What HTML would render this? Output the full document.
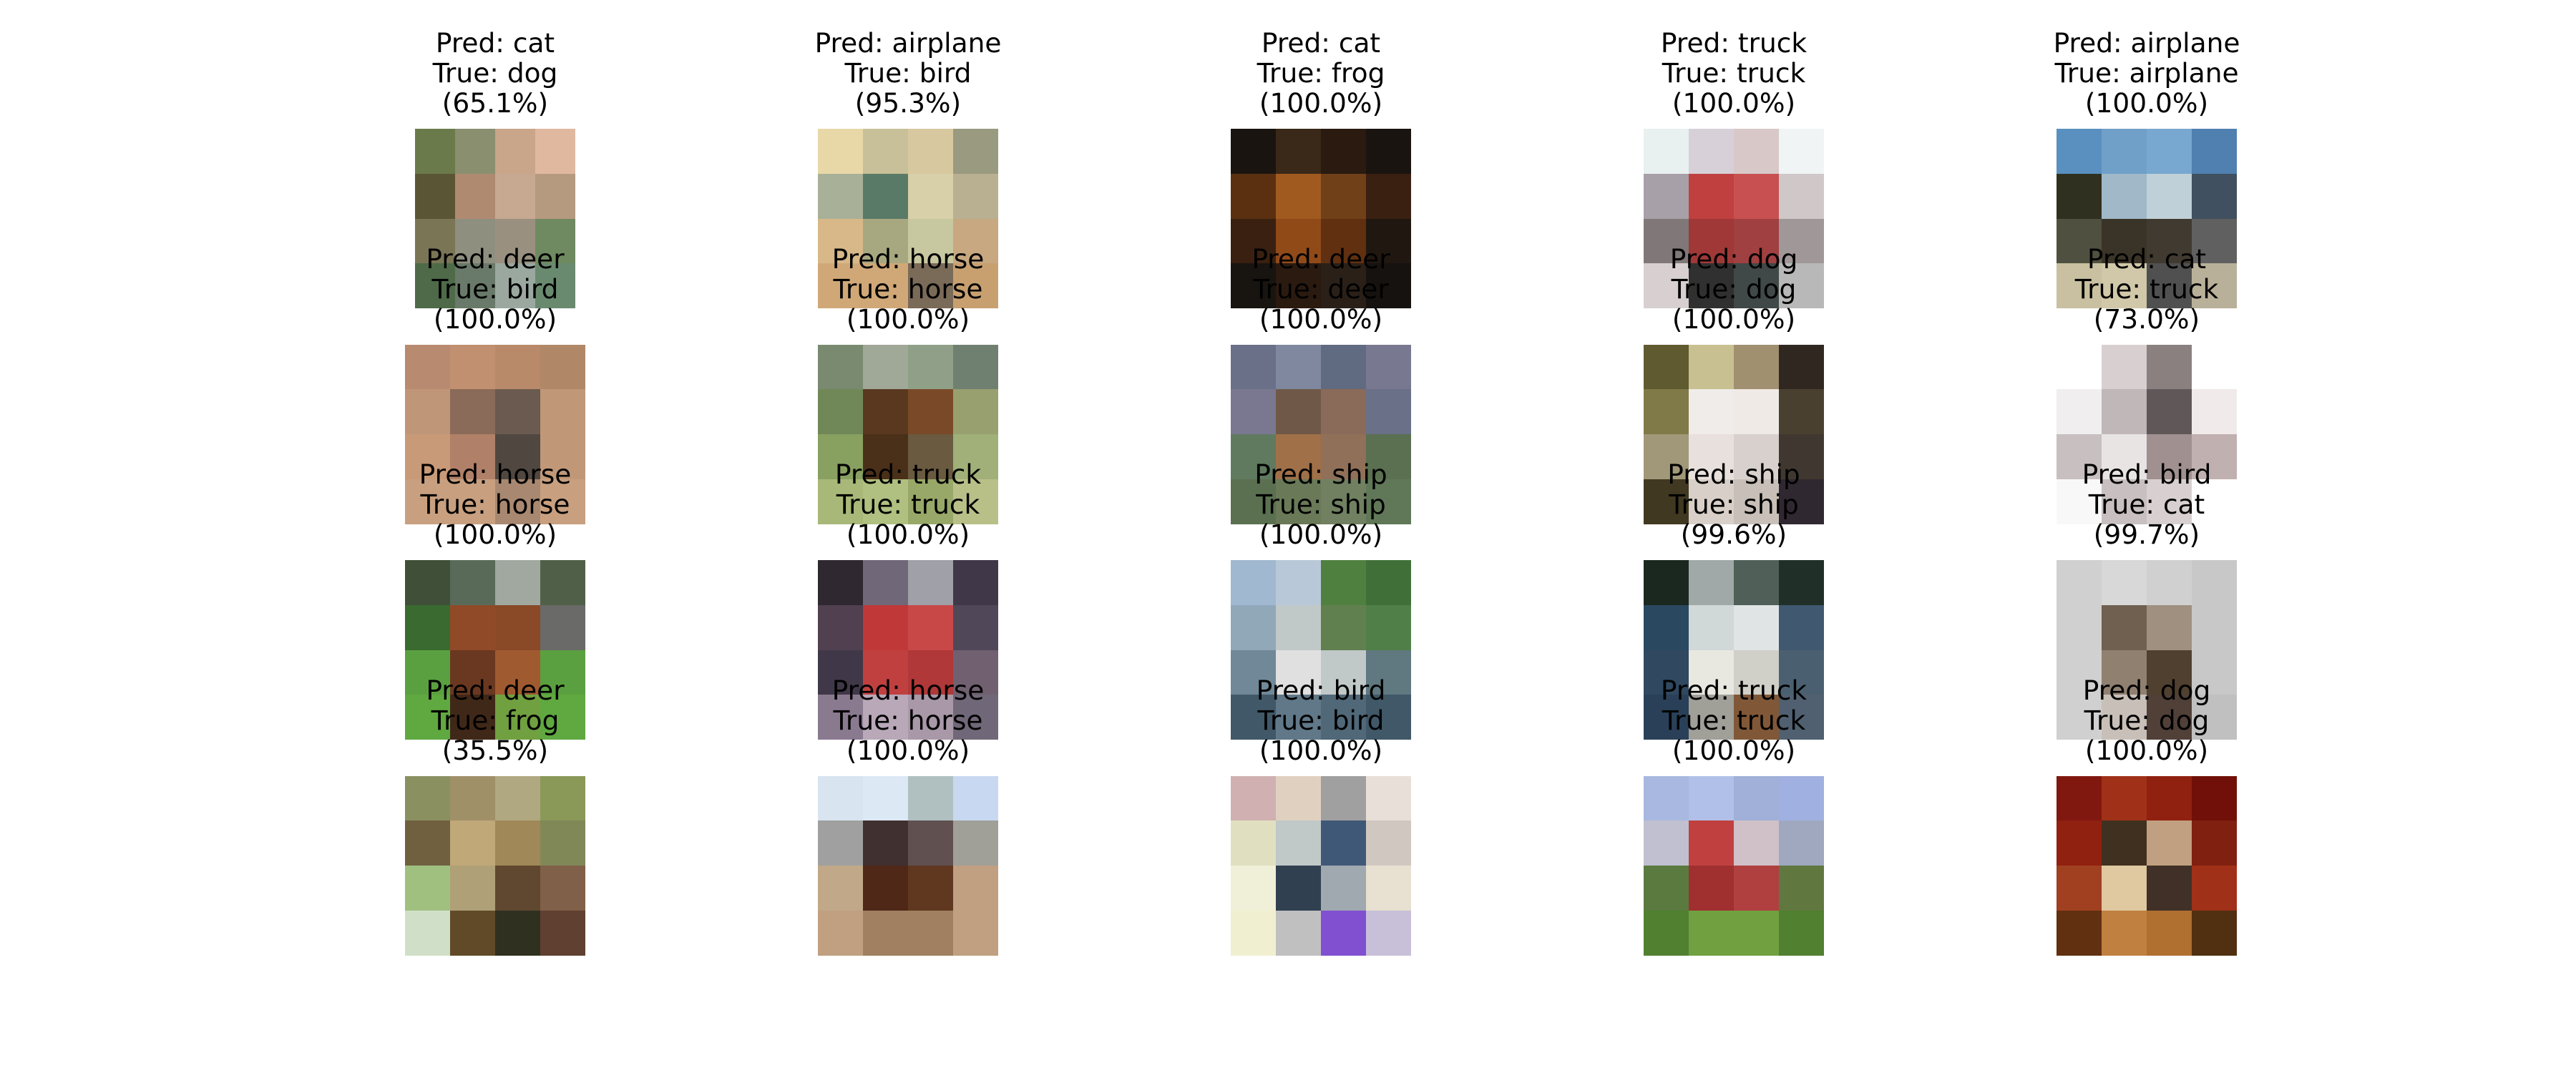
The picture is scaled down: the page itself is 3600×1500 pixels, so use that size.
<!DOCTYPE html>
<html><head><meta charset="utf-8">
<style>
html,body{margin:0;padding:0;background:#fff;}
#fig{position:relative;width:3600px;height:1500px;overflow:hidden;background:#fff;}
.img{position:absolute;display:grid;grid-template-columns:repeat(4,1fr);grid-template-rows:repeat(4,1fr);z-index:1;}
.title{position:absolute;width:600px;text-align:center;font-family:"DejaVu Sans","Liberation Sans",sans-serif;font-size:37.5px;line-height:42px;color:#000;z-index:2;white-space:pre;}
</style></head>
<body>
<div id="fig"></div>
<script>
const preds = ["cat","airplane","cat","truck","airplane","deer","horse","deer","dog","cat","horse","truck","ship","ship","bird","deer","horse","bird","truck","dog"];
const trues = ["dog","bird","frog","truck","airplane","bird","horse","deer","dog","truck","horse","truck","ship","ship","cat","frog","horse","bird","truck","dog"];
const confs = ["65.1","95.3","100.0","100.0","100.0","100.0","100.0","100.0","100.0","73.0","100.0","100.0","100.0","99.6","99.7","35.5","100.0","100.0","100.0","100.0"];
const colors = [
[["#6b7a4a","#8a8f70","#c9a58a","#e0b8a0"],["#5a5535","#b08a70","#c7a890","#b69a80"],["#7a7555","#8f8f80","#9a9080","#6f8a60"],["#4e6a48","#6a7a6a","#9aa8a0","#6a8a70"]],
[["#e8d8a8","#c8c098","#d8c8a0","#9a9a80"],["#a8b098","#5a7a68","#d8d0a8","#b8b090"],["#d8b888","#a8a880","#c8c8a0","#c8a880"],["#d0a878","#d0a878","#7a6a58","#c8a070"]],
[["#1a1410","#3a2818","#2a1a10","#1a1410"],["#5a3010","#a05a20","#704018","#3a2010"],["#3a2010","#904a18","#603010","#201810"],["#181410","#2a1a10","#2a2018","#151210"]],
[["#e8f0f0","#d8d0d8","#d8c8c8","#f0f4f4"],["#a8a0a8","#c04040","#c85050","#d0c8c8"],["#807878","#a03838","#a04040","#a09898"],["#d8d0d0","#303030","#404848","#b8b8b8"]],
[["#5a90c0","#70a0c8","#78a8d0","#5080b0"],["#303020","#a0b8c8","#c0d0d8","#405060"],["#505040","#3a3428","#403a30","#606060"],["#c8c0a0","#d0c8a8","#505050","#b8b098"]],
[["#b88a70","#c09070","#b88a6a","#b08868"],["#c09678","#8a6a58","#6a5a50","#c09878"],["#c89a78","#b08068","#504840","#c09878"],["#c8a080","#c8a080","#a88870","#c8a080"]],
[["#7a8a70","#a0a898","#90a088","#708070"],["#708858","#5a3820","#7a4a28","#98a070"],["#88a060","#4a3018","#6a5a40","#a0b078"],["#a8b878","#b0c080","#98a868","#b8c088"]],
[["#6a7088","#8088a0","#606a80","#787890"],["#7a7890","#705848","#8a6a58","#6a7088"],["#607a60","#a07048","#907058","#5a7050"],["#5a7050","#6a7a58","#708060","#607858"]],
[["#605a30","#c8c090","#a09070","#302820"],["#807a48","#f0ecea","#f0eae6","#4a4030"],["#a09878","#e8e0dc","#d8d0cc","#403830"],["#403820","#d8d0c8","#c8c0b8","#302830"]],
[["#ffffff","#d8d0d0","#8a8080","#ffffff"],["#f0eeee","#c0b8b8","#605858","#f0eaea"],["#c8c0c0","#e8e4e4","#a09090","#c0b0b0"],["#f8f8f8","#c8c0c0","#d8d0d0","#ffffff"]],
[["#405038","#5a6a58","#a0a8a0","#506048"],["#3a6a30","#904a28","#8a4a28","#6a6a68"],["#5aa040","#6a3820","#a05a30","#5aa040"],["#60a840","#402818","#70a040","#60a840"]],
[["#302830","#706878","#a0a0a8","#403848"],["#504050","#c03838","#c84848","#504858"],["#403848","#c04040","#b03838","#706070"],["#8a7a90","#b8a8b8","#a898a8","#706878"]],
[["#a0b8d0","#b8c8d8","#508040","#407038"],["#90a8b8","#c0c8c8","#608050","#508048"],["#708898","#e0e0e0","#c0c8c8","#607880"],["#405868","#607888","#506878","#405868"]],
[["#1a2820","#a0a8a8","#506058","#203028"],["#2a4860","#d0d8d8","#e0e4e4","#405870"],["#304860","#e8e8e0","#d0d0c8","#4a6070"],["#2a4058","#a0a098","#805838","#506070"]],
[["#d0d0d0","#d8d8d8","#d0d0d0","#c8c8c8"],["#d0d0d0","#706050","#a09080","#c8c8c8"],["#d0d0d0","#908070","#504030","#c8c8c8"],["#d0d0d0","#c8c0b8","#504038","#c0c0c0"]],
[["#8a9060","#a09068","#b0a880","#8a9858"],["#706040","#c0a878","#a08858","#808858"],["#a0c080","#b0a078","#604830","#806048"],["#d0e0c8","#604a28","#303020","#604030"]],
[["#d8e4f0","#dce8f4","#b0c0c0","#c8d8f0"],["#a0a0a0","#403030","#605050","#a0a098"],["#c0a888","#502818","#603820","#c0a080"],["#c0a080","#a08060","#a08060","#c0a080"]],
[["#d0b0b0","#e0d0c0","#a0a0a0","#e8e0d8"],["#e0e0c0","#c0c8c8","#405878","#d0c8c0"],["#f0f0d8","#304050","#a0a8b0","#e8e0d0"],["#f0f0d0","#c0c0c0","#8050d0","#c8c0d8"]],
[["#a8b8e0","#b0c0e8","#a0b0d8","#a0b0e0"],["#c0c0d0","#c04040","#d0c0c8","#a0a8c0"],["#5a7a40","#a03030","#b04040","#607840"],["#508030","#70a040","#70a040","#508030"]],
[["#801810","#a03018","#902010","#701008"],["#902010","#403020","#c0a080","#802010"],["#a04020","#e0c8a0","#403028","#a03018"],["#603010","#c08040","#b07030","#503010"]]
];
const fig = document.getElementById('fig');
const colX = c => 692 + c*577;
const rowY = r => 180 + r*301.5;
for (let i = 0; i < preds.length; i++) {
  const r = Math.floor(i/5), c = i%5;
  const im = document.createElement('div');
  im.className = 'img';
  
  
  const w = (i === 0) ? 224 : 252;
  im.style.left = (colX(c) - w/2) + 'px';
  im.style.top = rowY(r) + 'px';
  im.style.width = w + 'px';
  im.style.height = '251px';
  colors[i].forEach(row => row.forEach(col => {
    const cell = document.createElement('div');
    cell.style.background = col;
    im.appendChild(cell);
  }));
  fig.appendChild(im);
  const t = document.createElement('div');
  t.className = 'title';
  
  
  t.style.left = (colX(c) - 300) + 'px';
  t.style.top = (39 + r*301.5) + 'px';
  t.textContent = 'Pred: ' + preds[i] + '\nTrue: ' + trues[i] + '\n(' + confs[i] + '%)';
  fig.appendChild(t);
}
</script>
</body></html>
